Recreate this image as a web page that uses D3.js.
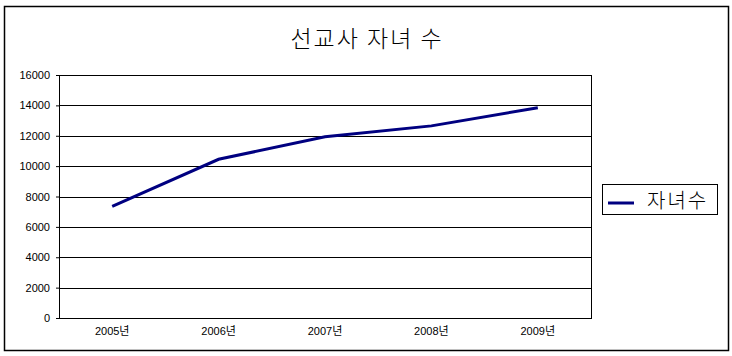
<!DOCTYPE html>
<html>
<head>
<meta charset="utf-8">
<script src="https://cdn.jsdelivr.net/npm/d3@7"></script>
<style>
  body { margin: 0; background: #fff; }
  text { font-family: "Liberation Sans", Arial, sans-serif; }
  .kr { font-family: "Noto Sans CJK KR", sans-serif; font-weight: 300; }
</style>
</head>
<body>
<div id="chart"></div>
<script>
// chart data
var years = ['2005년', '2006년', '2007년', '2008년', '2009년'];
var children = [7350, 10450, 11930, 12650, 13850];
var yTicks = [0, 2000, 4000, 6000, 8000, 10000, 12000, 14000, 16000];
var seriesName = '자녀수';
var title = '선교사 자녀 수';

var W = 732, H = 356;
var margin = { top: 75, right: 141, bottom: 38, left: 59 };
var width = W - margin.left - margin.right,   // 532
    height = H - margin.top - margin.bottom;  // 243

var svg = d3.select('#chart').append('svg')
    .attr('width', W)
    .attr('height', H);

// outer frame
svg.append('rect')
    .attr('x', 4.5).attr('y', 6.5)
    .attr('width', 724).attr('height', 344)
    .attr('fill', '#fff')
    .attr('stroke', '#000')
    .attr('stroke-width', 1.5);

svg.append('text')
    .attr('class', 'kr')
    .attr('x', 367).attr('y', 47)
    .attr('text-anchor', 'middle')
    .style('font-size', '23px')
    .style('letter-spacing', '2px')
    .text(title);

var g = svg.append('g')
    .attr('transform', 'translate(' + margin.left + ',' + margin.top + ')');

var x = d3.scaleBand().domain(years).range([0, width]);
var y = d3.scaleLinear().domain([0, 16000]).range([height, 0]);

// horizontal gridlines
g.selectAll('.grid')
    .data(yTicks)
    .enter().append('line')
    .attr('x1', 0).attr('x2', width)
    .attr('y1', function (d) { return Math.round(y(d)) + 0.5; })
    .attr('y2', function (d) { return Math.round(y(d)) + 0.5; })
    .attr('stroke', '#000');

// plot border
g.append('rect')
    .attr('x', 0.5).attr('y', 0.5)
    .attr('width', width).attr('height', height)
    .attr('fill', 'none')
    .attr('stroke', '#000');

var yAxis = d3.axisLeft(y).tickValues(yTicks).tickSize(3).tickPadding(6).tickFormat(d3.format('d'));
var gy = g.append('g').call(yAxis);
gy.select('.domain').remove();
gy.selectAll('text').style('font-size', '11px').style('font-family', '"Liberation Sans", Arial, sans-serif');

var xAxis = d3.axisBottom(x).tickSize(0).tickPadding(9);
var gx = g.append('g')
    .attr('transform', 'translate(0,' + height + ')')
    .call(xAxis);
gx.select('.domain').remove();
gx.selectAll('text')
    .style('font-size', '11px')
    .style('font-family', '"Liberation Sans", "Noto Sans CJK KR", sans-serif');

// the line
var line = d3.line()
    .x(function (d, i) { return x(years[i]) + x.bandwidth() / 2; })
    .y(function (d) { return y(d); });

g.append('path')
    .datum(children)
    .attr('d', line)
    .attr('fill', 'none')
    .attr('stroke', '#000080')
    .attr('stroke-width', 3);

// legend
var lg = svg.append('g').attr('transform', 'translate(602,184)');
lg.append('rect')
    .attr('x', 0.5).attr('y', 0.5)
    .attr('width', 115).attr('height', 30)
    .attr('fill', '#fff')
    .attr('stroke', '#000');
lg.append('line')
    .attr('x1', 6).attr('x2', 32)
    .attr('y1', 19).attr('y2', 19)
    .attr('stroke', '#000080')
    .attr('stroke-width', 3);
lg.append('text')
    .attr('class', 'kr')
    .attr('x', 45).attr('y', 24)
    .style('font-size', '20px')
    .style('letter-spacing', '2px')
    .text(seriesName);
</script>
</body>
</html>
